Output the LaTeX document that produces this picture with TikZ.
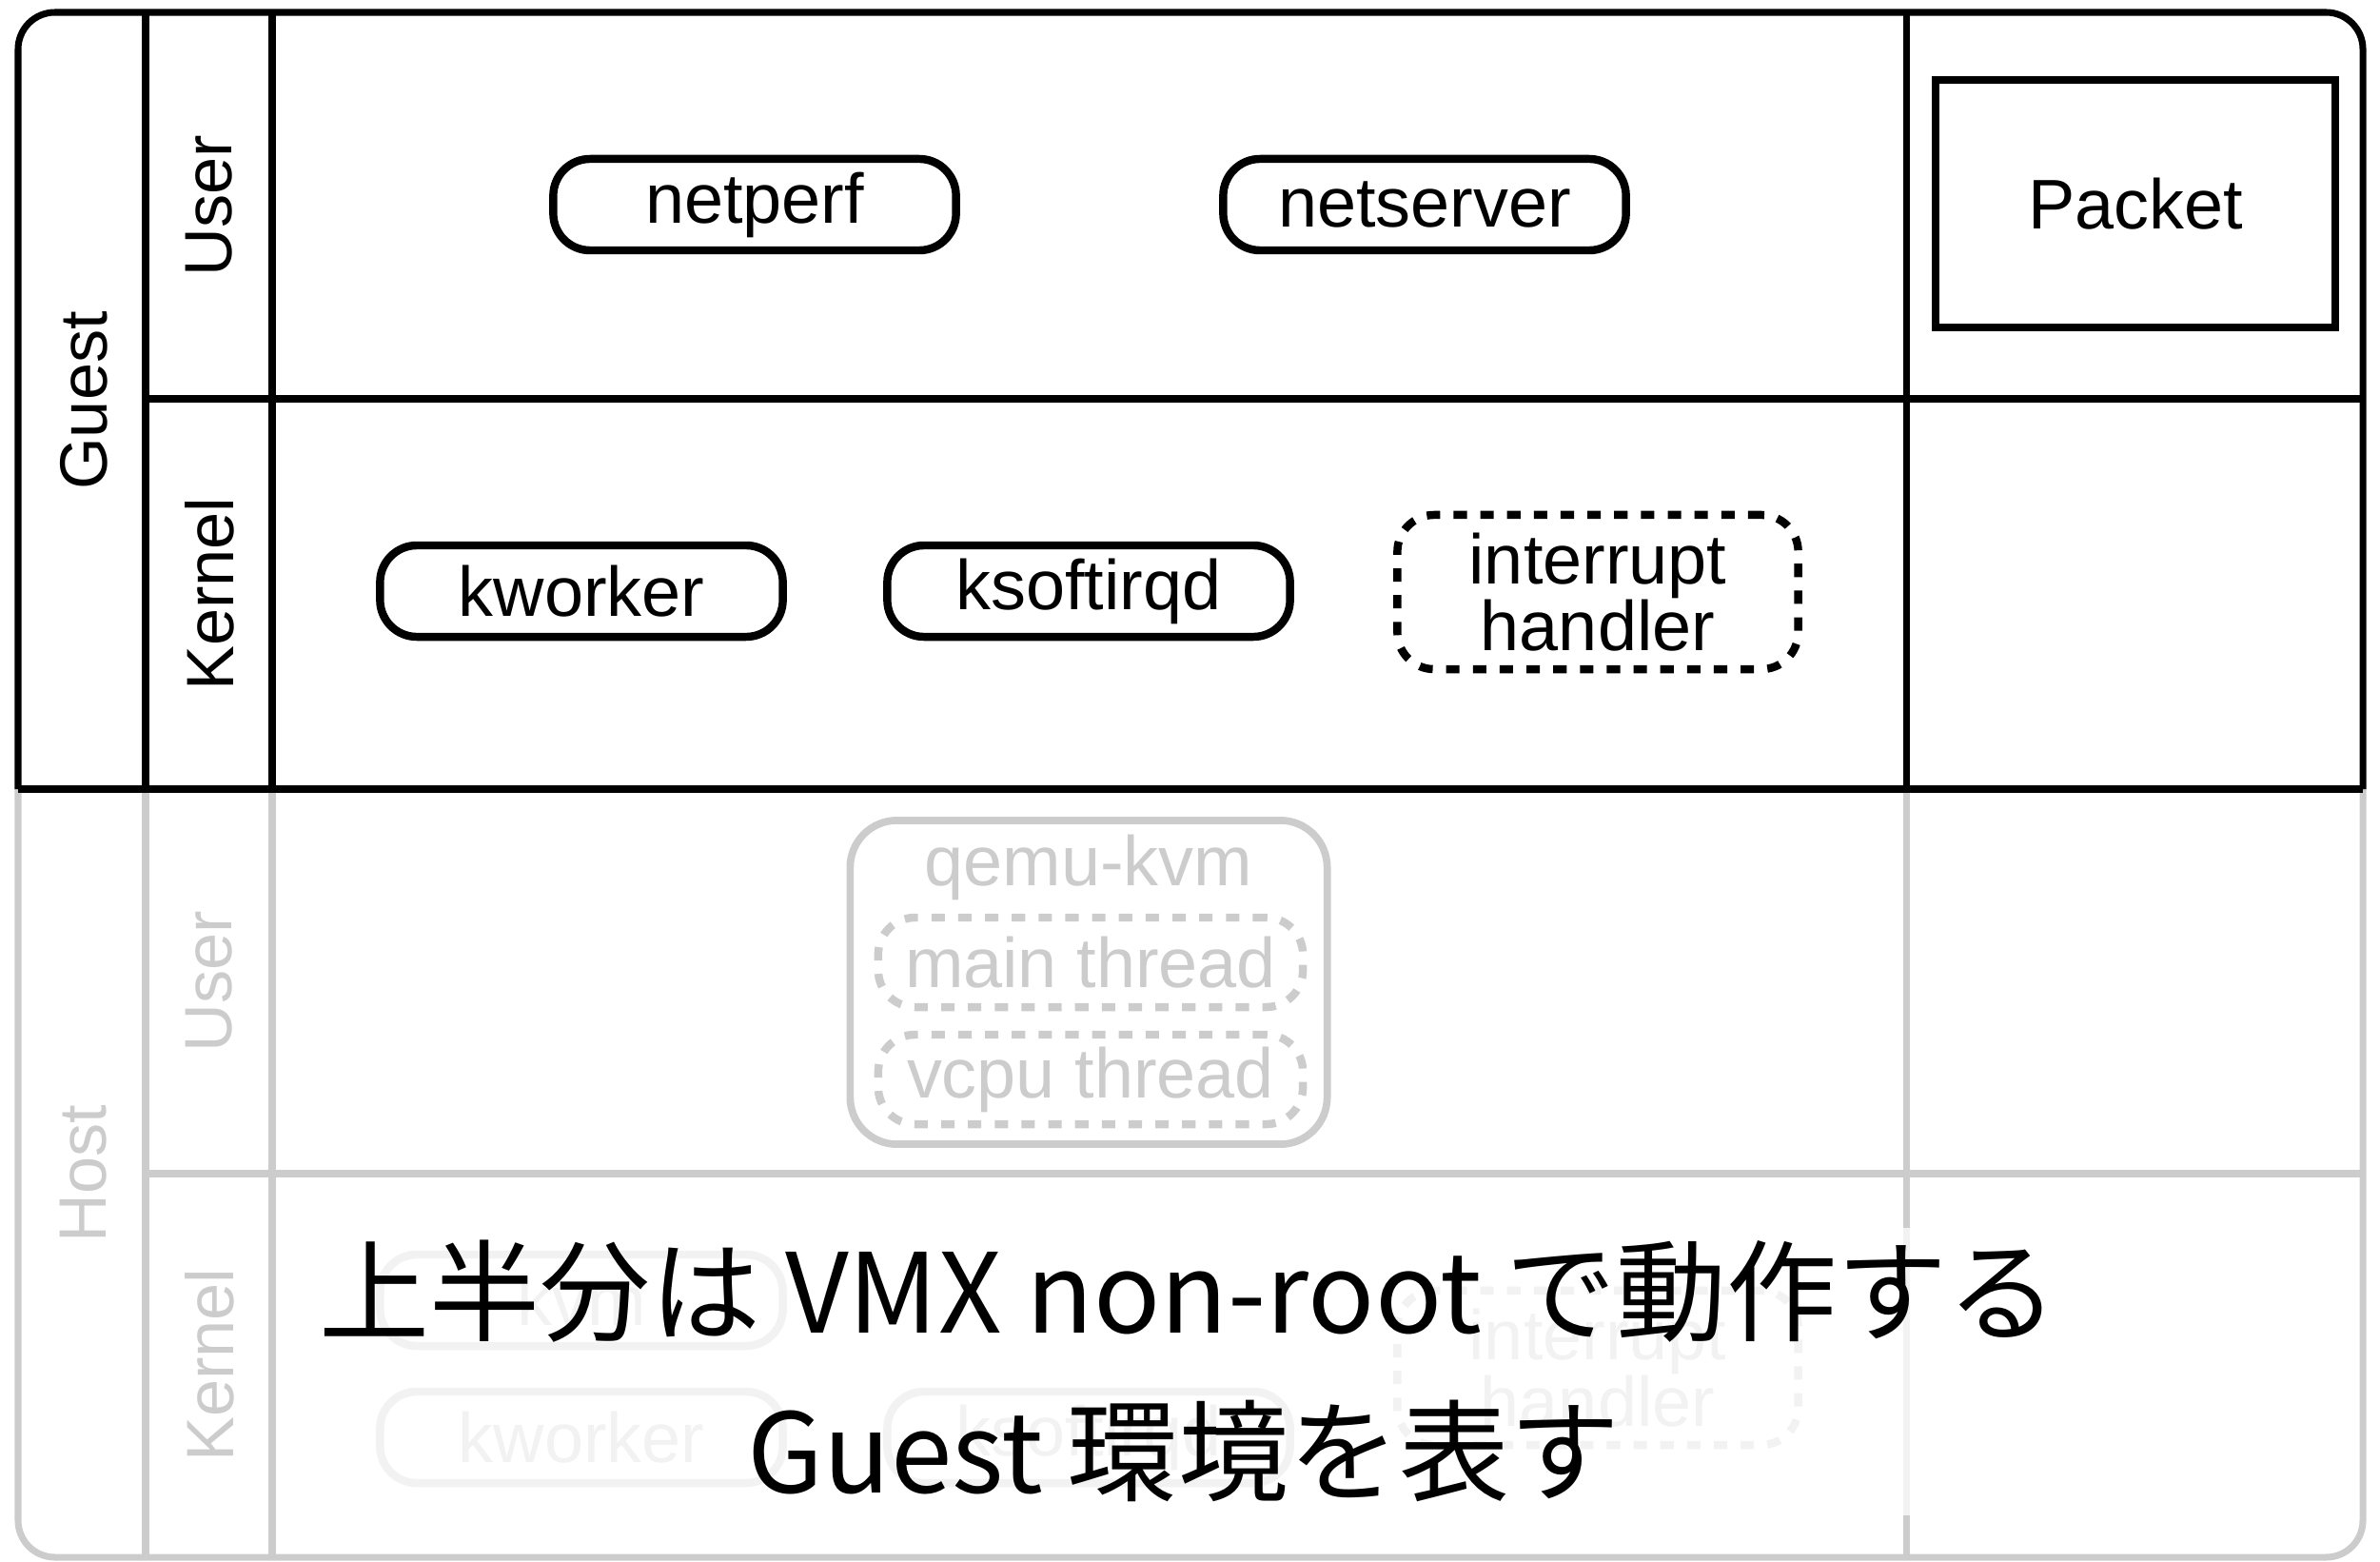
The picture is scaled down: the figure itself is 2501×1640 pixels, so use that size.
\documentclass[tikz,border=0pt]{standalone}
\usepackage{fontspec}
\setmainfont{Liberation Sans}
\newfontfamily\jpfont{Noto Sans CJK JP}
\usepackage{tikz}
\usetikzlibrary{positioning}
\definecolor{hostgray}{HTML}{CCCCCC}

\begin{document}
\begin{tikzpicture}[x=0.01cm,y=-0.01cm,
  proc/.style={draw,line width=2.4pt,rounded corners=11pt,inner sep=0pt,
    minimum width=4.23cm,minimum height=0.96cm,font=\fontsize{21}{20}\selectfont},
  thr/.style={proc,dash pattern=on 4pt off 4pt},
  faded/.style={draw=hostgray,text=hostgray},
  lbl/.style={rotate=90,font=\fontsize{20}{20}\selectfont},
  note/.style={anchor=base,font=\jpfont\fontsize{33}{33}\selectfont}]
\useasboundingbox (0,0) rectangle (2501,1640);

% host frame (gray)
\draw[hostgray,line width=2pt,rounded corners=11pt] (19,829) -- (19,1636) -- (2483,1636) -- (2483,829);
\foreach \x in {153,286,2003}
  \draw[hostgray,line width=2pt] (\x,829) -- (\x,1636);
\draw[hostgray,line width=2pt] (153,1233) -- (2483,1233);

% guest frame (black)
\draw[line width=2pt,rounded corners=11pt] (19,829) -- (19,13) -- (2483,13) -- (2483,829);
\foreach \x in {153,286,2003}
  \draw[line width=2pt] (\x,13) -- (\x,829);
\draw[line width=2pt] (153,419) -- (2483,419);
\draw[line width=2pt] (19,829) -- (2483,829);

% side labels
\foreach \x/\y/\t/\c/\n in {88/421/Guest/black/guest, 220/216/User/black/guser,
    220/624/Kernel/black/gkernel, 88/1233/Host/hostgray/host,
    220/1031/User/hostgray/huser, 220/1434/Kernel/hostgray/hkernel}
  \node[lbl,text=\c] (\n) at (\x,\y) {\t};

% guest
\node[proc] (netperf) at (793,215) {netperf};
\node[proc] (netserver) at (1497,215) {netserver};
\node[proc] (gkworker) at (611,621) {kworker};
\node[proc] (gksoftirqd) at (1144,621) {ksoftirqd};
\node[thr,minimum width=4.21cm,minimum height=1.62cm,align=center] (girq) at (1679,622) {interrupt\\handler};
\node[draw,line width=2.2pt,minimum width=4.2cm,minimum height=2.6cm,font=\fontsize{21}{20}\selectfont] (packet) at (2244,214) {Packet};

% host user
\node[draw=hostgray,line width=2.2pt,rounded corners=14pt,minimum width=5.01cm,minimum height=3.40cm] (qemu) at (1144,1032) {};
\node[text=hostgray,font=\fontsize{21}{20}\selectfont] (qemulbl) at (1144,911) {qemu-kvm};
\node[thr,faded,minimum width=4.46cm,minimum height=0.94cm] (mainthr) at (1146,1011) {main thread};
\node[thr,faded,minimum width=4.46cm,minimum height=0.94cm] (vcputhr) at (1146,1134) {vcpu thread};

% host kernel
\node[proc,faded] (kvm) at (611,1366) {kvm};
\node[proc,faded] (hkworker) at (611,1510) {kworker};
\node[proc,faded] (hksoftirqd) at (1144,1510) {ksoftirqd};
\node[thr,faded,minimum width=4.21cm,minimum height=1.62cm,align=center] (hirq) at (1679,1437) {interrupt\\handler};

% note over the host kernel
\fill[white,opacity=0.75] (305,1290) rectangle (2195,1592);
\node[note] (note1) at (1249,1400) {上半分は VMX non-root で動作する};
\node[note] (note2) at (1244,1568) {Guest 環境を表す};
\end{tikzpicture}
\end{document}
